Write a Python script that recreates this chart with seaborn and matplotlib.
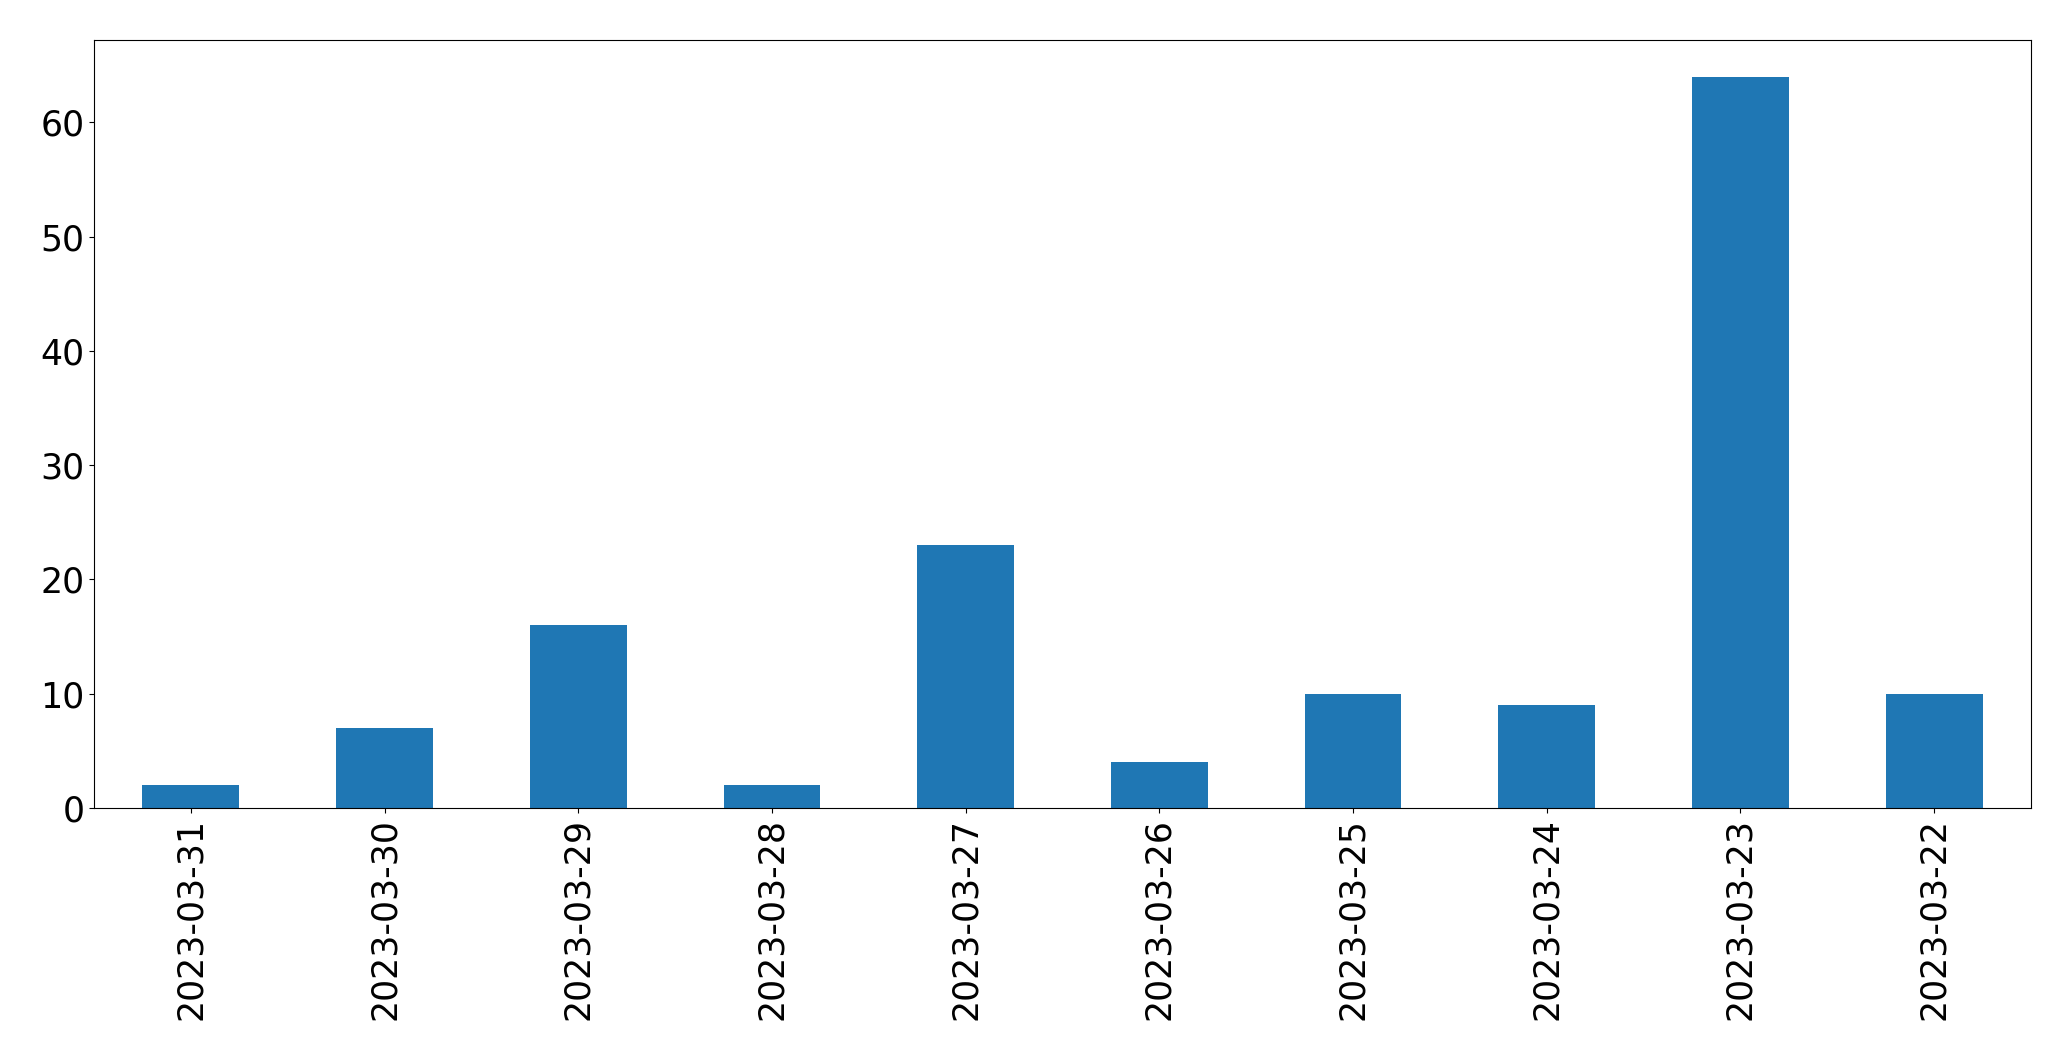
import matplotlib
matplotlib.use("Agg")
import matplotlib.pyplot as plt
import seaborn as sns
import pandas as pd

dates = ["2023-03-31", "2023-03-30", "2023-03-29", "2023-03-28", "2023-03-27",
         "2023-03-26", "2023-03-25", "2023-03-24", "2023-03-23", "2023-03-22"]
counts = [2, 7, 16, 2, 23, 4, 10, 9, 64, 10]

df = pd.DataFrame({"date": dates, "count": counts})

fig = plt.figure(figsize=(20.71, 10.61), dpi=100)
ax = fig.add_axes([94 / 2071, 1 - 808 / 1061, (2031 - 94) / 2071, (808 - 40) / 1061])
sns.barplot(data=df, x="date", y="count", order=dates, color="#1f77b4",
            saturation=1, width=0.5, ax=ax, errorbar=None)
ax.set_xlim(-0.5, len(dates) - 0.5)
ax.set_ylim(0, max(counts) * 1.05)
ax.set_xlabel("")
ax.set_ylabel("")
ax.tick_params(axis="x", labelrotation=90, labelsize=25)
ax.tick_params(axis="y", labelsize=25)
for s in ax.spines.values():
    s.set_visible(True)
    s.set_color("black")
fig.savefig("out.png", dpi=100)
